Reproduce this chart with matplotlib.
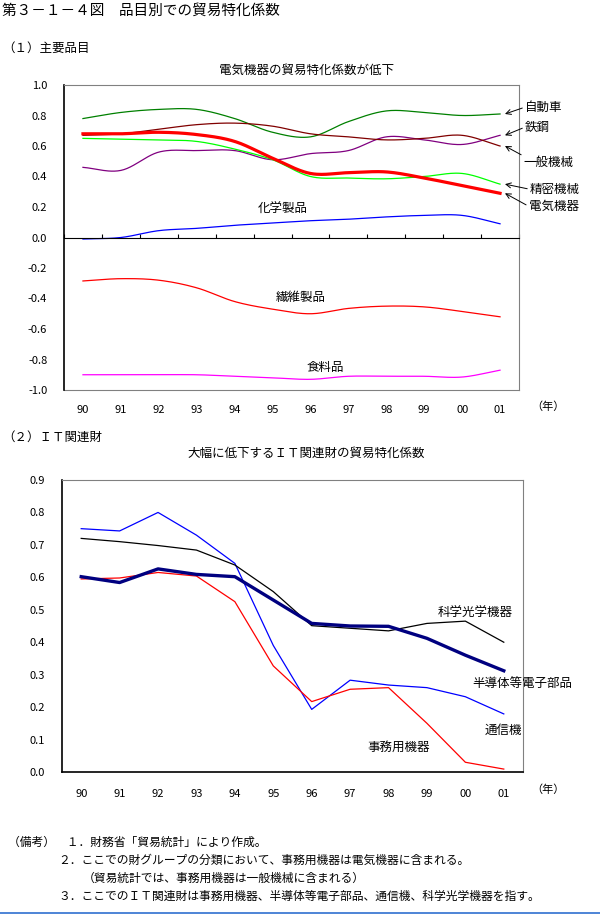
import numpy as np
import matplotlib
matplotlib.use('Agg')
import matplotlib.pyplot as plt
from matplotlib.lines import Line2D

plt.rcParams['font.family'] = ['Noto Sans CJK JP', 'DejaVu Sans']
plt.rcParams['axes.unicode_minus'] = False

# --- data ---
years = ['90', '91', '92', '93', '94', '95', '96', '97', '98', '99', '00', '01']

# (1) 主要品目
jidosha = [0.78, 0.82, 0.84, 0.84, 0.78, 0.69, 0.66, 0.76, 0.83, 0.82, 0.80, 0.81]
tekko = [0.46, 0.44, 0.56, 0.57, 0.57, 0.51, 0.55, 0.57, 0.66, 0.64, 0.61, 0.67]
ippan_kikai = [0.67, 0.68, 0.71, 0.74, 0.75, 0.73, 0.68, 0.66, 0.64, 0.65, 0.67, 0.60]
denki_kiki = [0.68, 0.68, 0.69, 0.675, 0.63, 0.52, 0.42, 0.425, 0.43, 0.39, 0.34, 0.29]
seimitsu_kikai = [0.65, 0.645, 0.64, 0.63, 0.58, 0.51, 0.40, 0.39, 0.385, 0.40, 0.42, 0.35]
kagaku = [-0.01, 0.0, 0.045, 0.06, 0.08, 0.095, 0.11, 0.12, 0.135, 0.145, 0.145, 0.09]
seni = [-0.285, -0.27, -0.28, -0.33, -0.42, -0.47, -0.50, -0.465, -0.45, -0.455, -0.485, -0.52]
shokuryo = [-0.90, -0.90, -0.90, -0.90, -0.91, -0.92, -0.93, -0.91, -0.91, -0.91, -0.915, -0.87]

# (2) IT関連財
tsushinki = [0.75, 0.743, 0.80, 0.73, 0.643, 0.39, 0.193, 0.283, 0.268, 0.26, 0.232, 0.179]
jimuyo = [0.595, 0.598, 0.615, 0.604, 0.525, 0.327, 0.217, 0.255, 0.26, 0.15, 0.03, 0.009]
kagaku_kogaku = [0.72, 0.71, 0.698, 0.684, 0.638, 0.556, 0.451, 0.443, 0.435, 0.458, 0.465, 0.40]
handotai = [0.602, 0.584, 0.626, 0.609, 0.602, 0.53, 0.458, 0.45, 0.449, 0.412, 0.36, 0.312]

top_yticks = [1.0, 0.8, 0.6, 0.4, 0.2, 0.0, -0.2, -0.4, -0.6, -0.8, -1.0]
bot_yticks = [0.0, 0.1, 0.2, 0.3, 0.4, 0.5, 0.6, 0.7, 0.8, 0.9]

W, H = 600, 916


def smooth(y, n=24):
    # Excel風のなめらか線 (Catmull-Rom)
    y = np.asarray(y, float)
    p = np.concatenate([[2 * y[0] - y[1]], y, [2 * y[-1] - y[-2]]])
    xs, ys = [], []
    t = np.linspace(0, 1, n, endpoint=False)
    for i in range(len(y) - 1):
        p0, p1, p2, p3 = p[i:i + 4]
        ys.append(0.5 * (2 * p1 + (-p0 + p2) * t + (2 * p0 - 5 * p1 + 4 * p2 - p3) * t ** 2
                         + (-p0 + 3 * p1 - 3 * p2 + p3) * t ** 3))
        xs.append(i + t)
    xs.append([len(y) - 1])
    ys.append([y[-1]])
    return np.concatenate(xs), np.concatenate(ys)


def ftext(x, y, s, **kw):
    fig.text(x / W, 1 - y / H, s, **kw)


fig = plt.figure(figsize=(6, 9.16), dpi=100)

ftext(2, 11, '第３－１－４図　品目別での貿易特化係数', fontsize=10.5, va='center')
ftext(2, 48, '（１）主要品目', fontsize=9, va='center')
ftext(306, 70, '電気機器の貿易特化係数が低下', fontsize=9, va='center', ha='center')
ftext(2, 437, '（２）ＩＴ関連財', fontsize=9, va='center')
ftext(306, 453, '大幅に低下するＩＴ関連財の貿易特化係数', fontsize=9, va='center', ha='center')

# ---------- (1) ----------
ax = fig.add_axes([64 / W, 1 - 390 / H, 455 / W, 305 / H])
x = np.arange(len(years))
ax.plot(*smooth(jidosha), color='#008000', lw=0.9)
ax.plot(*smooth(tekko), color='#800080', lw=0.9)
ax.plot(*smooth(ippan_kikai), color='#800000', lw=0.9)
ax.plot(*smooth(seimitsu_kikai), color='#00FF00', lw=0.9)
ax.plot(*smooth(denki_kiki), color='#FF0000', lw=2.3)
ax.plot(*smooth(kagaku), color='#0000FF', lw=0.9)
ax.plot(*smooth(seni), color='#FF0000', lw=0.9)
ax.plot(*smooth(shokuryo), color='#FF00FF', lw=0.9)

ax.set_xlim(-0.5, 11.5)
ax.set_ylim(-1.0, 1.0)
ax.set_yticks(top_yticks)
ax.set_yticklabels(['%.1f' % v for v in top_yticks])
ax.tick_params(axis='y', length=0, pad=12, labelsize=8)
ax.spines['bottom'].set_position(('data', 0))
ax.spines['bottom'].set_color('black')
ax.spines['left'].set_color('black')
ax.spines['left'].set_linewidth(1.2)
for s in ['top', 'right']:
    ax.spines[s].set_color('#808080')
ax.set_xticks(np.arange(-0.5, 12, 1))
ax.tick_params(axis='x', direction='in', length=3, labelbottom=False)

sec = ax.secondary_xaxis('bottom')
sec.set_xticks(x)
sec.set_xticklabels(years)
sec.tick_params(length=0, pad=11, labelsize=8)
sec.spines['bottom'].set_color('#808080')
ax.text(12.27, -0.056, '（年）', transform=ax.get_xaxis_transform(), fontsize=8,
        ha='center', va='center', clip_on=False)

ax.text(5.28, 0.184, '化学製品', fontsize=9, ha='center', va='center')
ax.text(5.73, -0.395, '繊維製品', fontsize=9, ha='center', va='center')
ax.text(6.4, -0.85, '食料品', fontsize=9, ha='center', va='center')

arrow = dict(arrowstyle='->', color='black', lw=0.7, shrinkA=0, shrinkB=0)
right_labels = [('自動車', jidosha, 11.66, 0.855, (0, 0.5)),
                ('鉄鋼', tekko, 11.66, 0.724, (0, 0.5)),
                ('一般機械', ippan_kikai, 11.63, 0.49, (0, 1.0)),
                ('精密機械', seimitsu_kikai, 11.79, 0.316, (0, 0.5)),
                ('電気機器', denki_kiki, 11.76, 0.204, (0, 0.5))]
for name, ser, tx, ty, rp in right_labels:
    ax.annotate(name, xy=(11.13, ser[-1]), xytext=(tx, ty), fontsize=9,
                ha='left', va='center', annotation_clip=False,
                arrowprops=dict(arrow, relpos=rp))

# ---------- (2) ----------
bx = fig.add_axes([62 / W, 1 - 772 / H, 461 / W, 292 / H])
bx.plot(x, tsushinki, color='#0000FF', lw=0.9)
bx.plot(x, jimuyo, color='#FF0000', lw=0.9)
bx.plot(x, kagaku_kogaku, color='#000000', lw=0.9)
bx.plot(x, handotai, color='#000080', lw=2.4)
bx.set_xlim(-0.5, 11.5)
bx.set_ylim(0, 0.9)
bx.set_yticks(bot_yticks)
bx.set_yticklabels(['%.1f' % v for v in bot_yticks])
bx.set_xticks(x)
bx.set_xticklabels(years)
bx.tick_params(axis='y', length=0, pad=12, labelsize=8)
bx.tick_params(axis='x', length=0, pad=12, labelsize=8)
for s in ['left', 'bottom']:
    bx.spines[s].set_color('black')
    bx.spines[s].set_linewidth(1.2)
for s in ['top', 'right']:
    bx.spines[s].set_color('#808080')
bx.text(12.14, -0.055, '（年）', fontsize=8, ha='center', va='center', clip_on=False)

bx.text(10.26, 0.49, '科学光学機器', fontsize=9, ha='center', va='center')
bx.text(11.48, 0.274, '半導体等電子部品', fontsize=9, ha='center', va='center', clip_on=False)
bx.text(10.99, 0.129, '通信機', fontsize=9, ha='center', va='center')
bx.text(8.26, 0.077, '事務用機器', fontsize=9, ha='center', va='center')

# ---------- 備考 ----------
notes = [(8, 842, '（備考）　１．財務省「貿易統計」により作成。'),
         (58, 860, '２．ここでの財グループの分類において、事務用機器は電気機器に含まれる。'),
         (83, 878, '（貿易統計では、事務用機器は一般機械に含まれる）'),
         (58, 896, '３．ここでのＩＴ関連財は事務用機器、半導体等電子部品、通信機、科学光学機器を指す。')]
for nx, ny, s in notes:
    ftext(nx, ny, s, fontsize=8.5, va='center')

fig.add_artist(Line2D([0, 1], [1 - 913 / H, 1 - 913 / H], color='#2f6fd0', lw=1.2,
                      transform=fig.transFigure))

fig.savefig('out.png', dpi=100)
